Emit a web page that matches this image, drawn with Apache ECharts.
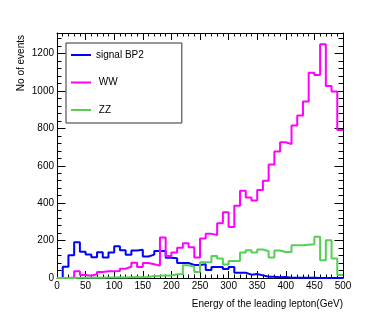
<!DOCTYPE html>
<html>
<head>
<meta charset="utf-8">
<script src="https://cdn.jsdelivr.net/npm/echarts@6/dist/echarts.min.js"></script>
<style>
  html, body { margin: 0; padding: 0; background: #fff; }
  #chart { width: 382px; height: 327px; }
</style>
</head>
<body>
<div id="chart"></div>
<script>
// 50 bins of 10 GeV, 0..500
const BIN_WIDTH = 10;
const X_MIN = 0;
const X_MAX = 500;
const Y_MAX = 1310;

const seriesNames = ["signal BP2", "WW", "ZZ"];

const signalBP2 = [0, 60, 122, 191, 141, 125, 111, 138, 109, 136,
  170, 148, 124, 147, 151, 115, 125, 145, 145, 108,
  106, 80, 80, 70, 70, 73, 43, 59, 59, 48,
  59, 28, 28, 18, 21, 14, 7, 7, 4, 5,
  2, 2, 1, 1, 1, 0, 0, 0, 0, 0];

const ww = [0, 0, 3, 36, 16, 12, 20, 32, 36, 36,
  38, 50, 60, 82, 59, 80, 74, 66, 216, 118,
  136, 162, 186, 164, 110, 211, 236, 230, 293, 352,
  273, 386, 467, 431, 415, 470, 520, 607, 676, 726,
  716, 815, 869, 944, 1098, 1086, 1250, 1027, 997, 792];

const zz = [0, 0, 0, 1, 2, 2, 3, 2, 3, 3,
  4, 3, 4, 5, 4, 5, 11, 12, 14, 13,
  20, 22, 68, 60, 32, 84, 86, 118, 104, 72,
  91, 91, 136, 148, 136, 152, 143, 109, 147, 139,
  139, 175, 175, 178, 180, 220, 95, 202, 104, 16];

const colors = ["#0000ff", "#ff00ff", "#55d055"];

// lower edges of every bin plus the final upper edge
const binEdges = signalBP2.map((_, i) => X_MIN + i * BIN_WIDTH).concat(X_MIN + signalBP2.length * BIN_WIDTH);

function toSteps(values) {
  return binEdges.map((x, i) => [x, values[Math.min(i, values.length - 1)]]);
}

const FONT = "'Liberation Sans', Arial, sans-serif";

const chart = echarts.init(document.getElementById("chart"), null, { renderer: "canvas" });

const xAxisBase = {
  type: "value",
  min: X_MIN,
  max: X_MAX,
  interval: 50,
  axisLine: { show: true, onZero: false, lineStyle: { color: "#000", width: 1 } },
  axisTick: { show: true, inside: true, length: 7, lineStyle: { color: "#000" } },
  minorTick: { show: true, splitNumber: 5, length: 3.5, lineStyle: { color: "#000" } },
  splitLine: { show: false },
};

const yAxisBase = {
  type: "value",
  min: 0,
  max: Y_MAX,
  interval: 200,
  axisLine: { show: true, onZero: false, lineStyle: { color: "#000", width: 1 } },
  axisTick: { show: true, inside: true, length: 8.5, lineStyle: { color: "#000" } },
  minorTick: { show: true, splitNumber: 5, length: 4.5, lineStyle: { color: "#000" } },
  splitLine: { show: false },
};

chart.setOption({
  animation: false,
  textStyle: { fontFamily: FONT },
  grid: { left: 57, right: 39, top: 33, bottom: 49, outerBoundsMode: "none" },
  legend: {
    data: seriesNames,
    orient: "vertical",
    left: 66,
    top: 43,
    padding: [7, 38, 8, 5],
    itemGap: 17.5,
    itemWidth: 20,
    itemHeight: 2,
    icon: "rect",
    borderColor: "#333",
    borderWidth: 1,
    backgroundColor: "#fff",
    textStyle: { fontFamily: FONT, fontSize: 10, color: "#000" },
    formatter: (name) => (name === "signal BP2" ? name : " " + name),
  },
  xAxis: [
    Object.assign({}, xAxisBase, {
      position: "bottom",
      axisLabel: { show: true, fontFamily: FONT, fontSize: 10, color: "#000", margin: 3 },
    }),
    Object.assign({}, xAxisBase, { position: "top", axisLabel: { show: false } }),
  ],
  yAxis: [
    Object.assign({}, yAxisBase, {
      position: "left",
      axisLabel: {
        show: true, fontFamily: FONT, fontSize: 10, color: "#000", margin: 3, showMaxLabel: false,
        formatter: (v) => String(v),
      },
    }),
    Object.assign({}, yAxisBase, { position: "right", axisLabel: { show: false } }),
  ],
  graphic: [
    {
      type: "text",
      x: 343,
      y: 304,
      style: {
        text: "Energy of the leading lepton(GeV)",
        font: "10px " + FONT,
        fill: "#000",
        textAlign: "right",
        textVerticalAlign: "middle",
      },
    },
    {
      type: "text",
      x: 21,
      y: 35,
      rotation: Math.PI / 2,
      style: {
        text: "No of events",
        font: "10px " + FONT,
        fill: "#000",
        textAlign: "right",
        textVerticalAlign: "middle",
      },
    },
  ],
  series: [signalBP2, ww, zz].map((values, i) => ({
    name: seriesNames[i],
    type: "line",
    step: "end",
    xAxisIndex: 0,
    yAxisIndex: 0,
    data: toSteps(values),
    symbol: "none",
    color: colors[i],
    lineStyle: { color: colors[i], width: 2 },
    emphasis: { disabled: true },
  })),
});
</script>
</body>
</html>
